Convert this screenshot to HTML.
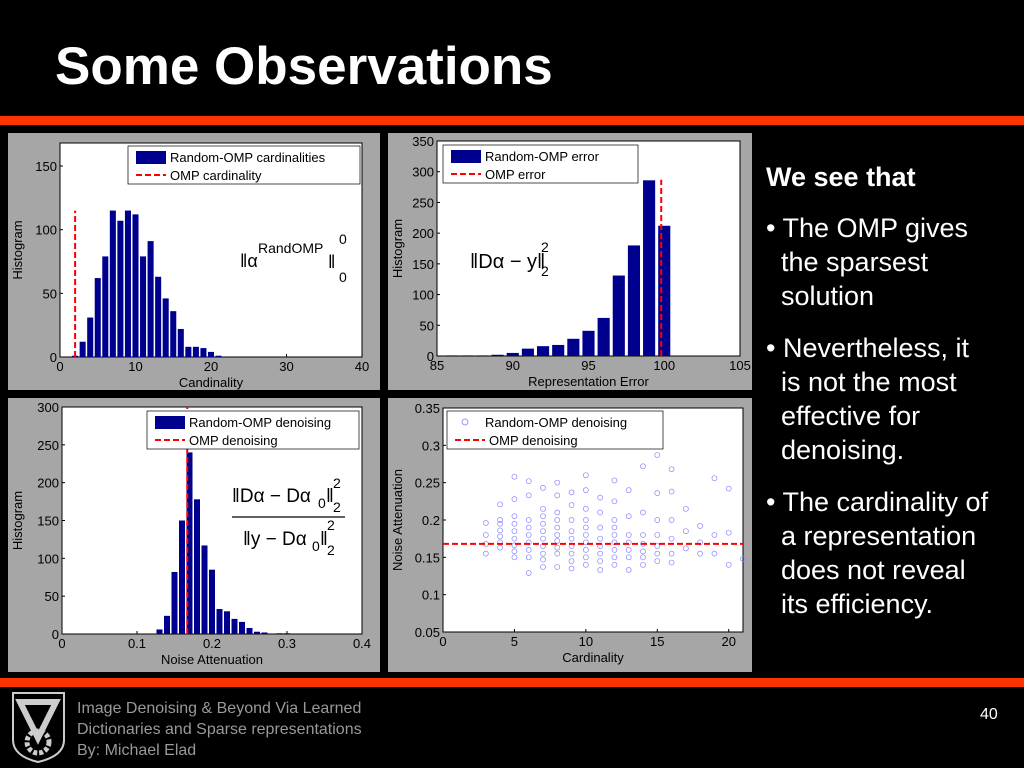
<!DOCTYPE html>
<html><head><meta charset="utf-8"><style>
body{margin:0;background:#000;width:1024px;height:768px;overflow:hidden;position:relative;font-family:"Liberation Sans",sans-serif}
.t{position:absolute;color:#fff}
</style></head><body>
<div class="t" style="left:55px;top:36px;font-size:53px;font-weight:bold">Some Observations</div>
<div style="position:absolute;left:0;top:116px;width:1024px;height:9px;background:#ff3300"></div>
<div style="position:absolute;left:0;top:678px;width:1024px;height:9px;background:#ff3300"></div>
<div class="t" style="left:766px;top:160px;font-size:27px;line-height:34px;width:258px">
<div style="font-weight:bold;margin-bottom:17px">We see that</div>
<div style="margin-bottom:18px">• The OMP gives<br>&nbsp;&nbsp;the sparsest<br>&nbsp;&nbsp;solution</div>
<div style="margin-bottom:18px">• Nevertheless, it<br>&nbsp;&nbsp;is not the most<br>&nbsp;&nbsp;effective for<br>&nbsp;&nbsp;denoising.</div>
<div>• The cardinality of<br>&nbsp;&nbsp;a representation<br>&nbsp;&nbsp;does not reveal<br>&nbsp;&nbsp;its efficiency.</div>
</div>
<div class="t" style="left:980px;top:706px;font-size:16px">40</div>
<div class="t" style="left:77px;top:698px;font-size:16px;line-height:21px;color:#999">Image Denoising &amp; Beyond Via Learned<br>Dictionaries and Sparse representations<br>By: Michael Elad</div>
<svg style="position:absolute;left:10px;top:690px" width="58" height="74"><path d="M3,3 H54 V50 Q54,66 28,72 Q3,66 3,50Z" fill="none" stroke="#ccc" stroke-width="2"/><path d="M10,12 H46 L28,48Z" fill="none" stroke="#ccc" stroke-width="6"/><circle cx="28" cy="52" r="11" fill="none" stroke="#ccc" stroke-width="5" stroke-dasharray="4 2"/></svg>
<svg id="s" width="1024" height="768" style="position:absolute;left:0;top:0"></svg>
<script>
const c1Cats=[2,3,4,5,6,7,8,9,10,11,12,13,14,15,16,17,18,19,20,21];
const c1Vals=[1,12,31,62,79,115,107,115,112,79,91,63,46,36,22,8,8,7,4,1];
const c1Omp=2;
const c2Cats=[86,87,88,89,90,91,92,93,94,95,96,97,98,99,100];
const c2Vals=[1,1,1,2,5,12,16,18,28,41,62,131,180,286,212];
const c2Omp=99.8;
const c3Cats=[0.13,0.14,0.15,0.16,0.17,0.18,0.19,0.20,0.21,0.22,0.23,0.24,0.25,0.26,0.27,0.28,0.29,0.30];
const c3Vals=[6,24,82,150,240,178,117,85,33,30,20,16,8,3,2,0,1,1];
const c3Omp=0.167;
const c4X=[3,3,3,3,4,4,4,4,4,4,4,5,5,5,5,5,5,5,5,5,6,6,6,6,6,6,6,6,6,7,7,7,7,7,7,7,7,7,7,8,8,8,8,8,8,8,8,8,8,9,9,9,9,9,9,9,9,9,10,10,10,10,10,10,10,10,10,10,11,11,11,11,11,11,11,11,12,12,12,12,12,12,12,12,12,13,13,13,13,13,13,13,14,14,14,14,14,14,14,15,15,15,15,15,15,15,16,16,16,16,16,16,17,17,17,18,18,18,19,19,19,20,20,20,21];
const c4Y=[0.155,0.168,0.18,0.196,0.163,0.17,0.178,0.186,0.195,0.2,0.221,0.15,0.158,0.166,0.175,0.185,0.195,0.205,0.228,0.258,0.129,0.15,0.16,0.17,0.18,0.19,0.2,0.233,0.252,0.137,0.147,0.155,0.165,0.175,0.185,0.195,0.205,0.215,0.243,0.137,0.155,0.163,0.172,0.18,0.19,0.2,0.21,0.233,0.25,0.135,0.145,0.155,0.165,0.175,0.185,0.2,0.22,0.237,0.14,0.15,0.16,0.17,0.18,0.19,0.2,0.215,0.24,0.26,0.133,0.145,0.155,0.165,0.175,0.19,0.21,0.23,0.14,0.15,0.16,0.17,0.18,0.19,0.2,0.225,0.253,0.133,0.15,0.16,0.17,0.18,0.205,0.24,0.14,0.15,0.158,0.168,0.18,0.21,0.272,0.145,0.155,0.165,0.18,0.2,0.236,0.287,0.143,0.155,0.175,0.2,0.238,0.268,0.162,0.185,0.215,0.155,0.17,0.192,0.155,0.18,0.256,0.14,0.183,0.242,0.148];
const c4Omp=0.168;
const NS='http://www.w3.org/2000/svg';const svg=document.getElementById('s');
function el(t,a,p){const e=document.createElementNS(NS,t);for(const k in a)e.setAttribute(k,a[k]);(p||svg).appendChild(e);return e;}
function lin(d0,d1,r0,r1){return v=>r0+(v-d0)/(d1-d0)*(r1-r0);}
function txt(x,y,s,o){const e=el('text',Object.assign({x:x,y:y,'font-size':13,fill:'#000','font-family':'Liberation Sans, sans-serif'},o||{}));e.textContent=s;return e;}
function frame(bx,by,bw,bh,px0,py0,px1,py1,xt,xs,yt,ys,xl,yl){
 const r=el('rect',{x:bx,y:by,width:bw,height:bh,fill:'#a6a6a6'});
 
 el('rect',{x:px0,y:py1,width:px1-px0,height:py0-py1,fill:'#fff',stroke:'#000','stroke-width':1});
 xt.forEach(v=>{const x=xs(v);el('line',{x1:x,x2:x,y1:py0,y2:py0-3,stroke:'#000'});const t=txt(x,py0+14,String(v),{'text-anchor':'middle'});});
 yt.forEach(v=>{const y=ys(v);el('line',{x1:px0,x2:px0+3,y1:y,y2:y,stroke:'#000'});const t=txt(px0-3,y+5,String(v),{'text-anchor':'end'});});
 const a=txt((px0+px1)/2,py0+30,xl,{'text-anchor':'middle'});
 const b=txt(0,0,yl,{'text-anchor':'middle',transform:`translate(${bx+14},${(py0+py1)/2}) rotate(-90)`});
}
function bars(cats,vals,w,xs,ys,y0){cats.forEach((c,i)=>{const x0=xs(c-w/2),x1=xs(c+w/2);const r=el('rect',{x:x0,y:ys(vals[i]),width:x1-x0,height:y0-ys(vals[i]),fill:'#00008f'});});}
function legend(x,y,w,l1,l2,scatter){
 el('rect',{x:x,y:y,width:w,height:38,fill:'#fff',stroke:'#000','stroke-width':0.7});
 if(scatter)el('circle',{cx:x+18,cy:y+11,r:3,fill:'none',stroke:'#99f'});else el('rect',{x:x+8,y:y+5,width:30,height:13,fill:'#00008f'});
 el('line',{x1:x+8,x2:x+38,y1:y+29,y2:y+29,stroke:'#f00','stroke-width':2,'stroke-dasharray':'6 3'});
 const a=txt(x+(scatter?38:42),y+16,l1);
 const b=txt(x+42,y+34,l2);
}
// Chart 1
{const xs=lin(0,40,60,362),ys=lin(0,150,357,166);
frame(8,133,372,257,60,357,362,143,[0,10,20,30,40],xs,[0,50,100,150],ys,'Candinality','Histogram');
bars(c1Cats,c1Vals,0.8,xs,ys,357);
el('line',{x1:xs(c1Omp),x2:xs(c1Omp),y1:357,y2:ys(115),stroke:'#f00','stroke-width':2,'stroke-dasharray':'6 3'});
legend(128,146,232,'Random-OMP cardinalities','OMP cardinality');
txt(240,267,'‖α',{'font-size':18});txt(258,253,'RandOMP',{'font-size':14});txt(328,268,'‖',{'font-size':18});txt(339,244,'0',{'font-size':14});txt(339,282,'0',{'font-size':14});
}
// Chart 2
{const xs=lin(85,105,437,740),ys=lin(0,350,356,141);
frame(388,133,364,257,437,356,740,141,[85,90,95,100,105],xs,[0,50,100,150,200,250,300,350],ys,'Representation Error','Histogram');
bars(c2Cats,c2Vals,0.8,xs,ys,356);
el('line',{x1:xs(c2Omp),x2:xs(c2Omp),y1:356,y2:ys(287),stroke:'#f00','stroke-width':2,'stroke-dasharray':'6 3'});
legend(443,145,195,'Random-OMP error','OMP error');
txt(470,268,'‖Dα − y‖',{'font-size':20});txt(541,252,'2',{'font-size':14});txt(541,276,'2',{'font-size':14});
}
// Chart 3
{const xs=lin(0,0.4,62,362),ys=lin(0,300,634,407);
frame(8,398,372,274,62,634,362,407,[0,0.1,0.2,0.3,0.4],xs,[0,50,100,150,200,250,300],ys,'Noise Attenuation','Histogram');
bars(c3Cats,c3Vals,0.008,xs,ys,634);
el('line',{x1:xs(c3Omp),x2:xs(c3Omp),y1:634,y2:ys(300),stroke:'#f00','stroke-width':2,'stroke-dasharray':'6 3'});
legend(147,411,212,'Random-OMP denoising','OMP denoising');
txt(232,502,'‖Dα − Dα',{'font-size':19});txt(318,508,'0',{'font-size':14});txt(326,502,'‖',{'font-size':19});txt(333,488,'2',{'font-size':14});txt(333,512,'2',{'font-size':14});
el('line',{x1:232,x2:345,y1:517,y2:517,stroke:'#000','stroke-width':1.2});
txt(243,545,'‖y − Dα',{'font-size':19});txt(312,551,'0',{'font-size':14});txt(320,545,'‖',{'font-size':19});txt(327,530,'2',{'font-size':14});txt(327,555,'2',{'font-size':14});
}
// Chart 4
{const xs=lin(0,21,443,743),ys=lin(0.05,0.35,632,408);
frame(388,398,364,274,443,632,743,408,[0,5,10,15,20],xs,[0.05,0.1,0.15,0.2,0.25,0.3,0.35],ys,'Cardinality','Noise Attenuation');
c4X.forEach((x,i)=>{const p=el('circle',{cx:xs(x),cy:ys(c4Y[i]),r:2.5,fill:'none',stroke:'#8888ff','stroke-width':0.7});});
el('line',{x1:443,x2:743,y1:ys(c4Omp),y2:ys(c4Omp),stroke:'#f00','stroke-width':2,'stroke-dasharray':'6 3'});
legend(447,411,216,'Random-OMP denoising','OMP denoising',true);
}
</script>
</body></html>
